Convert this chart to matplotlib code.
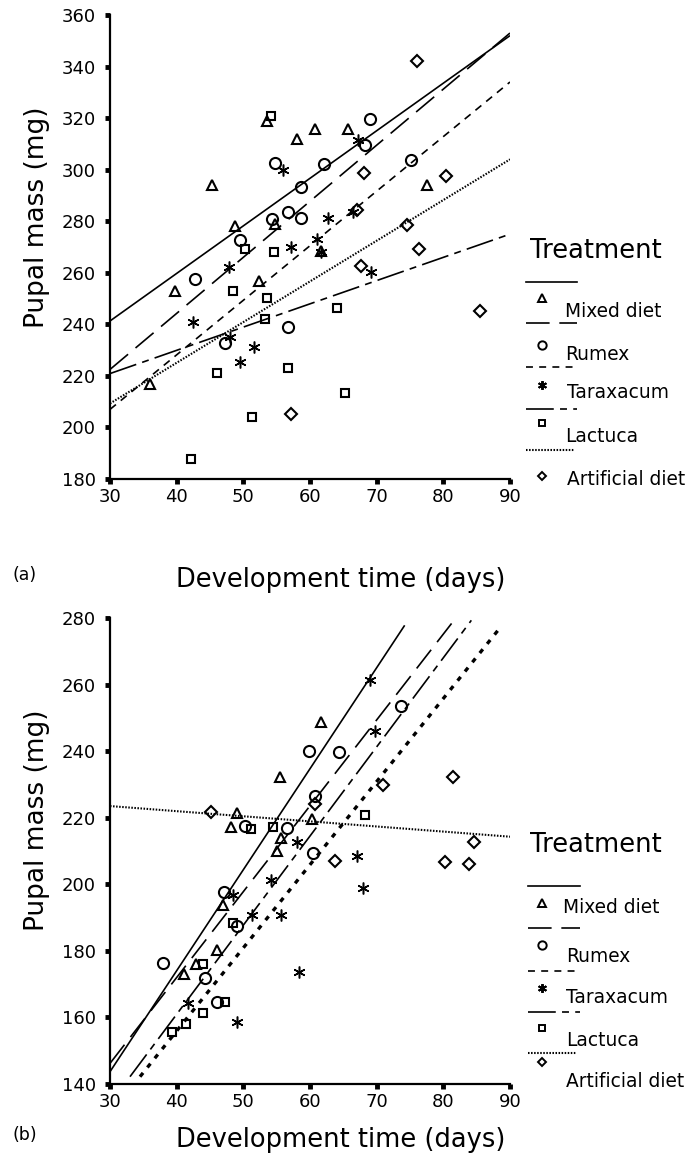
import matplotlib
matplotlib.use("Agg")
import matplotlib.pyplot as plt
from matplotlib.lines import Line2D
import numpy as np

plt.rcParams['font.family'] = ['DejaVu Sans']
plt.rcParams['lines.scale_dashes'] = False

treatments = ['Mixed diet', 'Rumex', 'Taraxacum', 'Lactuca', 'Artificial diet']

# ---------------- Panel (a) data ----------------
a_mixed_x = [36.0, 39.8, 45.3, 48.7, 52.4, 53.6, 54.8, 58.1, 60.7, 61.7, 65.7, 77.5]
a_mixed_y = [216.8, 252.9, 294.0, 278.0, 256.9, 319.0, 279.0, 312.0, 315.7, 268.5, 315.7, 294.0]
a_rumex_x = [42.7, 47.2, 49.5, 54.3, 54.8, 56.7, 56.7, 58.6, 58.6, 62.1, 68.3, 69.0, 75.2]
a_rumex_y = [257.5, 232.6, 272.7, 280.8, 302.7, 283.4, 239.0, 293.3, 281.4, 302.3, 309.5, 319.5, 303.9]
a_tarax_x = [42.4, 47.8, 48.0, 49.5, 51.6, 56.0, 57.2, 61.1, 61.6, 62.7, 66.4, 67.2, 69.1]
a_tarax_y = [241.0, 262.3, 235.2, 225.5, 231.3, 300.0, 270.1, 273.0, 268.1, 281.4, 283.6, 311.4, 260.4]
a_lact_x = [42.1, 46.0, 48.4, 50.2, 51.3, 53.2, 53.6, 54.1, 54.6, 56.7, 64.1, 65.2]
a_lact_y = [187.9, 221.2, 252.9, 269.4, 203.9, 242.0, 250.3, 321.0, 268.1, 222.9, 246.2, 213.4]
a_art_x = [57.2, 67.1, 67.7, 68.1, 74.6, 76.1, 76.4, 80.4, 85.5]
a_art_y = [205.3, 284.3, 262.6, 298.7, 278.4, 342.1, 269.4, 297.4, 245.1]

# fitted lines (a): start/end x and y per treatment
a_fit_x0 = [30, 30, 30, 30, 30]
a_fit_x1 = [90, 90, 90, 90, 90]
a_fit_y0 = [241.3, 222.5, 207.0, 220.9, 209.3]
a_fit_y1 = [352.0, 353.0, 334.0, 275.0, 304.0]

# ---------------- Panel (b) data ----------------
b_mixed_x = [41.1, 42.9, 46.0, 47.0, 48.2, 49.1, 55.0, 55.5, 55.7, 60.3, 61.7]
b_mixed_y = [173.0, 176.0, 180.2, 193.7, 217.2, 221.3, 210.0, 232.3, 213.8, 219.6, 248.8]
b_rumex_x = [38.0, 44.2, 46.0, 47.1, 49.1, 50.2, 56.5, 60.5, 60.7, 59.8, 64.3, 73.6]
b_rumex_y = [176.4, 171.7, 164.7, 197.8, 187.4, 217.5, 216.8, 209.3, 226.5, 240.1, 239.6, 253.5]
b_tarax_x = [41.7, 48.5, 49.1, 51.3, 54.2, 55.7, 58.0, 58.4, 67.0, 68.0, 69.0, 69.7]
b_tarax_y = [164.2, 196.8, 158.5, 190.8, 201.3, 190.8, 212.8, 173.7, 208.5, 198.8, 261.3, 246.0]
b_lact_x = [39.3, 41.4, 44.0, 44.0, 47.2, 48.5, 51.2, 54.5, 68.2]
b_lact_y = [155.5, 157.9, 161.2, 176.0, 164.7, 188.3, 216.5, 217.3, 220.8]
b_art_x = [45.1, 60.7, 63.7, 71.0, 80.2, 81.4, 83.9, 84.6]
b_art_y = [221.6, 224.0, 207.0, 229.8, 206.8, 232.3, 206.0, 212.8]

b_fit_x0 = [30.0, 30.0, 34.5, 33.0, 30.0]
b_fit_x1 = [74.2, 81.6, 88.2, 84.2, 90.0]
b_fit_y0 = [143.7, 146.2, 142.2, 142.2, 223.5]
b_fit_y1 = [277.8, 279.3, 276.3, 279.3, 214.3]

x_ticks = [30, 40, 50, 60, 70, 80, 90]
a_y_ticks = [180, 200, 220, 240, 260, 280, 300, 320, 340, 360]
b_y_ticks = [140, 160, 180, 200, 220, 240, 260, 280]

# ---------------- styles ----------------
markers = {'Mixed diet': '^', 'Rumex': 'o', 'Taraxacum': (6, 2, 0),
           'Lactuca': 's', 'Artificial diet': 'D'}
msizes = {'Mixed diet': 7.5, 'Rumex': 8, 'Taraxacum': 8.5,
          'Lactuca': 5.5, 'Artificial diet': 6}
mews = {'Mixed diet': 1.5, 'Rumex': 1.5, 'Taraxacum': 1.1,
        'Lactuca': 1.5, 'Artificial diet': 1.5}
line_styles_a = {'Mixed diet': dict(ls='-', lw=1.2),
                 'Rumex': dict(ls=(0, (17, 7)), lw=1.2),
                 'Taraxacum': dict(ls=(0, (5.5, 4.5)), lw=1.2),
                 'Lactuca': dict(ls=(0, (20, 4.5, 5, 4.5)), lw=1.2),
                 'Artificial diet': dict(ls=(0, (1.1, 1.1)), lw=1.5)}
line_styles_b = {'Mixed diet': dict(ls='-', lw=1.2),
                 'Rumex': dict(ls=(0, (17, 7)), lw=1.2),
                 'Taraxacum': dict(ls=(0, (3.5, 5)), lw=2.4),
                 'Lactuca': dict(ls=(0, (20, 4.5, 5, 4.5)), lw=1.2),
                 'Artificial diet': dict(ls=(0, (1.1, 1.1)), lw=1.5)}

W, H = 691, 1164
fig = plt.figure(figsize=(W / 100, H / 100), dpi=100)


def fx(px):
    return px / W


def fy(py):
    return 1 - py / H


def make_axes(top_px, bottom_px):
    ax = fig.add_axes([fx(110), fy(bottom_px), fx(510) - fx(110), fy(top_px) - fy(bottom_px)])
    for s in ['top', 'right']:
        ax.spines[s].set_visible(False)
    for s in ['left', 'bottom']:
        ax.spines[s].set_linewidth(1.6)
    ax.tick_params(direction='out', length=3.5, width=3.5, labelsize=13, pad=3)
    ax.tick_params(axis='y', pad=6.5)
    return ax


def draw_panel(ax, data, fits, lstyles, yticks):
    for name, (xs, ys) in zip(treatments, data):
        ax.plot(xs, ys, linestyle='none', marker=markers[name], ms=msizes[name],
                mfc='none', mec='black', mew=mews[name], color='black',
                clip_on=False, zorder=3)
    x0s, x1s, y0s, y1s = fits
    for i, name in enumerate(treatments):
        ax.plot([x0s[i], x1s[i]], [y0s[i], y1s[i]], color='black',
                solid_capstyle='butt', dash_capstyle='butt', **lstyles[name], zorder=2)
    ax.set_xlim(30, 90)
    ax.set_ylim(yticks[0], yticks[-1])
    ax.set_xticks(x_ticks)
    ax.set_yticks(yticks)


def draw_legend(title_xy, rows, lstyles):
    # rows: (line_y, line_x0, line_x1, marker_xy, text_xy[baseline])
    fig.text(fx(title_xy[0]), fy(title_xy[1]), 'Treatment', fontsize=18.5,
             ha='left', va='baseline')
    for name, (ly, lx0, lx1, mxy, txy) in zip(treatments, rows):
        st = dict(lstyles[name])
        if name == 'Taraxacum':
            st = dict(ls=(0, (5, 4.5)), lw=1.2)
        fig.add_artist(Line2D([fx(lx0), fx(lx1)], [fy(ly), fy(ly)], color='black',
                              transform=fig.transFigure, dash_capstyle='butt', **st))
        fig.add_artist(Line2D([fx(mxy[0])], [fy(mxy[1])], linestyle='none',
                              marker=markers[name], ms=msizes[name] * 0.75, mfc='none',
                              mec='black', mew=1.4, transform=fig.transFigure))
        fig.text(fx(txy[0]), fy(txy[1]), name, fontsize=13.4, ha='left', va='baseline')


# ---------------- Panel (a) ----------------
ax_a = make_axes(15, 479)
draw_panel(ax_a,
           [(a_mixed_x, a_mixed_y), (a_rumex_x, a_rumex_y), (a_tarax_x, a_tarax_y),
            (a_lact_x, a_lact_y), (a_art_x, a_art_y)],
           (a_fit_x0, a_fit_x1, a_fit_y0, a_fit_y1), line_styles_a, a_y_ticks)

draw_legend((530, 258),
            [(282, 526, 577, (542, 298), (565, 317)),
             (323, 526, 577, (542, 345), (565, 360)),
             (367, 526, 577, (542, 385), (567, 398)),
             (409, 526, 577, (542, 423), (565, 442)),
             (450, 526, 574, (542, 476), (567, 485))],
            line_styles_a)

fig.text(fx(37), fy(217), 'Pupal mass (mg)', fontsize=19, rotation=90,
         ha='center', va='center')
fig.text(fx(341), fy(587), 'Development time (days)', fontsize=18.5,
         ha='center', va='baseline')
fig.text(fx(25), fy(575), '(a)', fontsize=12.5, ha='center', va='center')

# ---------------- Panel (b) ----------------
ax_b = make_axes(618, 1084)
draw_panel(ax_b,
           [(b_mixed_x, b_mixed_y), (b_rumex_x, b_rumex_y), (b_tarax_x, b_tarax_y),
            (b_lact_x, b_lact_y), (b_art_x, b_art_y)],
           (b_fit_x0, b_fit_x1, b_fit_y0, b_fit_y1), line_styles_b, b_y_ticks)

draw_legend((530, 852),
            [(886, 528, 580, (542, 903), (563, 913)),
             (928, 528, 580, (542, 945), (566, 962)),
             (971, 528, 580, (542, 988), (566, 1003)),
             (1012, 528, 580, (542, 1028), (566, 1046)),
             (1053, 528, 576, (542, 1062), (566, 1087))],
            line_styles_a)

fig.text(fx(37), fy(820), 'Pupal mass (mg)', fontsize=19, rotation=90,
         ha='center', va='center')
fig.text(fx(341), fy(1147), 'Development time (days)', fontsize=18.5,
         ha='center', va='baseline')
fig.text(fx(25), fy(1135), '(b)', fontsize=12.5, ha='center', va='center')

fig.savefig('out.png', dpi=100, facecolor='white')
